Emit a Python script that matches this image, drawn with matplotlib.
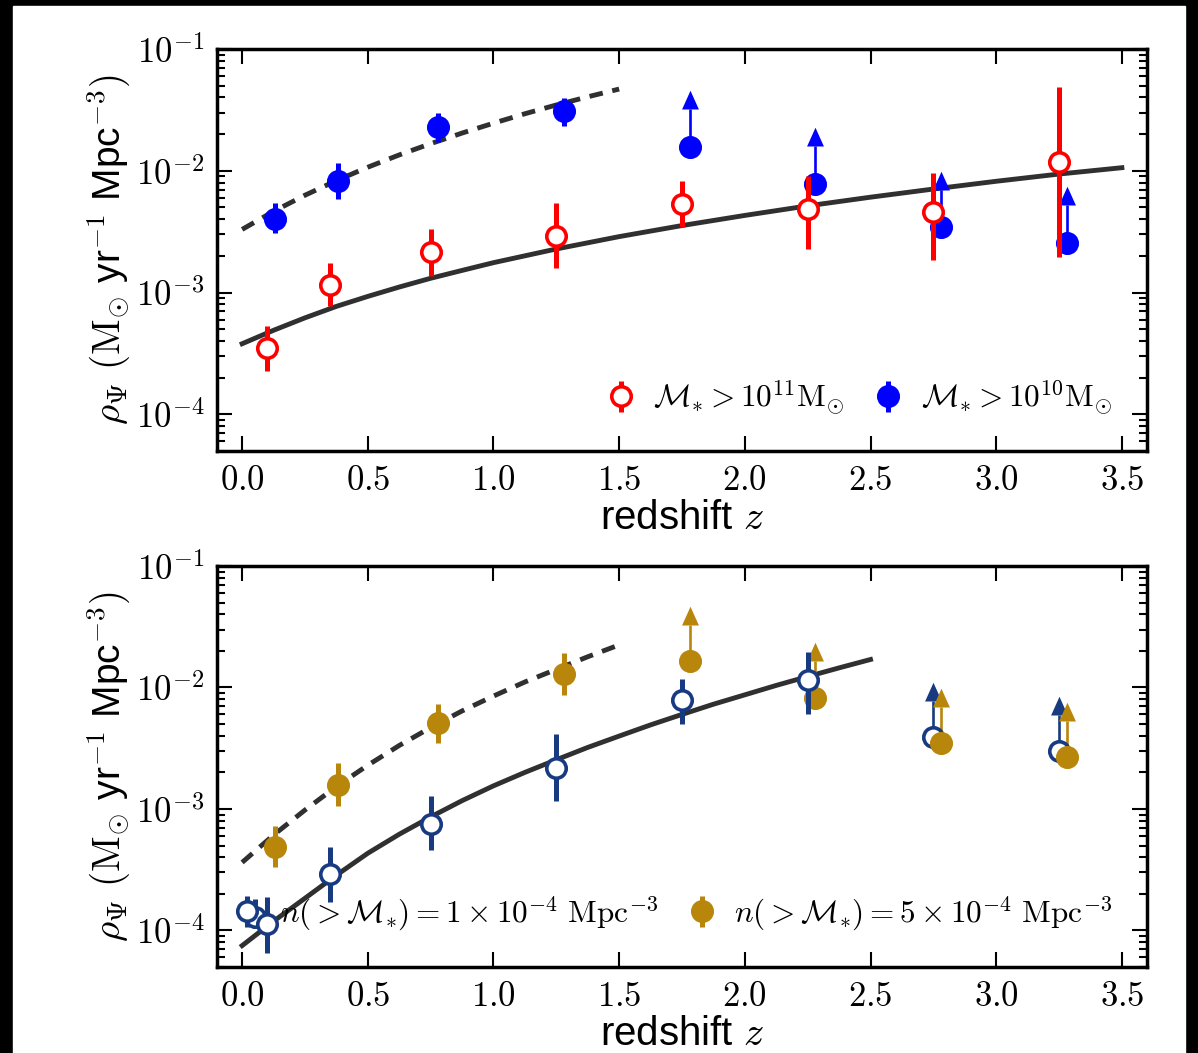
import numpy as np
import matplotlib
matplotlib.use('Agg')
import matplotlib.pyplot as plt
import matplotlib.ticker as mt
from matplotlib.patches import Rectangle

plt.rcParams['mathtext.fontset'] = 'cm'
plt.rcParams['font.family'] = ['Liberation Sans', 'DejaVu Sans']

# ---- top panel: fixed mass cut ----
z_m11 = [0.1, 0.35, 0.75, 1.25, 1.75, 2.25, 2.75, 3.25]
rho_m11 = [3.5e-4, 1.16e-3, 2.16e-3, 2.93e-3, 5.37e-3, 4.89e-3, 4.61e-3, 1.17e-2]
rho_m11_hi = [5.3e-4, 1.75e-3, 3.34e-3, 5.48e-3, 8.31e-3, 9.14e-3, 9.5e-3, 4.87e-2]
rho_m11_lo = [2.26e-4, 7.76e-4, 1.37e-3, 1.6e-3, 3.48e-3, 2.29e-3, 1.86e-3, 1.96e-3]

z_m10 = [0.13, 0.38, 0.78, 1.28]
rho_m10 = [4.05e-3, 8.17e-3, 2.28e-2, 3.08e-2]
rho_m10_hi = [5.48e-3, 1.15e-2, 2.97e-2, 3.94e-2]
rho_m10_lo = [3.1e-3, 5.91e-3, 1.71e-2, 2.32e-2]
z_m10_lim = [1.78, 2.28, 2.78, 3.28]
rho_m10_lim = [1.58e-2, 7.85e-3, 3.48e-3, 2.56e-3]
rho_m10_arrow = [3.2e-2, 1.6e-2, 7.0e-3, 5.2e-3]

zfit_top_solid = [0.0, 0.125, 0.25, 0.375, 0.5, 0.625, 0.75, 0.875, 1.0, 1.25, 1.5,
                  1.75, 2.0, 2.25, 2.5, 2.75, 3.0, 3.25, 3.5]
fit_top_solid = [3.8e-4, 4.9e-4, 6.2e-4, 7.7e-4, 9.3e-4, 1.11e-3, 1.31e-3, 1.52e-3, 1.76e-3,
                 2.28e-3, 2.88e-3, 3.55e-3, 4.3e-3, 5.15e-3, 6.07e-3, 7.08e-3, 8.2e-3,
                 9.4e-3, 1.06e-2]
zfit_top_dash = [0.0, 0.125, 0.25, 0.375, 0.5, 0.625, 0.75, 0.875, 1.0, 1.125, 1.25, 1.375, 1.5]
fit_top_dash = [3.3e-3, 4.64e-3, 6.3e-3, 8.3e-3, 1.07e-2, 1.35e-2, 1.67e-2, 2.04e-2, 2.46e-2,
                2.94e-2, 3.47e-2, 4.05e-2, 4.69e-2]

# ---- bottom panel: fixed number density ----
z_n1 = [0.05, 0.1, 0.35, 0.75, 1.25, 1.75, 2.25]
rho_n1 = [1.30e-4, 1.14e-4, 2.89e-4, 7.46e-4, 2.16e-3, 7.85e-3, 1.15e-2]
rho_n1_hi = [1.80e-4, 1.90e-4, 4.82e-4, 1.28e-3, 4.12e-3, 1.17e-2, 1.95e-2]
rho_n1_lo = [1.04e-4, 6.46e-5, 1.73e-4, 4.56e-4, 1.16e-3, 4.98e-3, 6.03e-3]
z_n1_lim = [2.75, 3.25]
rho_n1_lim = [3.89e-3, 2.99e-3]
rho_n1_arrow = [7.7e-3, 5.9e-3]

z_n5 = [0.13, 0.38, 0.78, 1.28]
rho_n5 = [4.88e-4, 1.57e-3, 5.08e-3, 1.29e-2]
rho_n5_hi = [7.19e-4, 2.38e-3, 7.28e-3, 1.92e-2]
rho_n5_lo = [3.30e-4, 1.05e-3, 3.48e-3, 8.65e-3]
z_n5_lim = [1.78, 2.28, 2.78, 3.28]
rho_n5_lim = [1.65e-2, 8.17e-3, 3.48e-3, 2.66e-3]
rho_n5_arrow = [3.25e-2, 1.65e-2, 6.9e-3, 5.3e-3]

zfit_bot_solid = [0.0, 0.125, 0.25, 0.375, 0.5, 0.625, 0.75, 0.875, 1.0, 1.125, 1.25, 1.375,
                  1.5, 1.625, 1.75, 1.875, 2.0, 2.125, 2.25, 2.375, 2.5]
fit_bot_solid = [7.5e-5, 1.19e-4, 1.84e-4, 2.85e-4, 4.32e-4, 6.19e-4, 8.6e-4, 1.17e-3, 1.55e-3,
                 2.0e-3, 2.54e-3, 3.21e-3, 3.98e-3, 4.92e-3, 6.0e-3, 7.28e-3, 8.7e-3, 1.04e-2,
                 1.23e-2, 1.45e-2, 1.7e-2]
zfit_bot_dash = [0.0, 0.125, 0.25, 0.375, 0.5, 0.625, 0.75, 0.875, 1.0, 1.125, 1.25, 1.375, 1.5]
fit_bot_dash = [3.63e-4, 6.1e-4, 9.8e-4, 1.53e-3, 2.29e-3, 3.33e-3, 4.68e-3, 6.41e-3, 8.5e-3,
                1.11e-2, 1.41e-2, 1.79e-2, 2.24e-2]

red = '#ff0000'
blue = '#0000ff'
navy = '#173a80'
gold = '#b8860b'
line_col = '#303030'

# arrow head with its base on the data point
head = [(-0.45, 0.0), (0.45, 0.0), (0.0, 1.0), (-0.45, 0.0)]


def points(ax, z, y, hi, lo, color, hollow, label):
    y = np.array(y)
    err = [y - np.array(lo), np.array(hi) - y]
    return ax.errorbar(z, y, yerr=err, fmt='o', ms=14, mfc='white' if hollow else color,
                       mec=color, mew=2.6, ecolor=color, elinewidth=3.6, capsize=0,
                       label=label, zorder=4)


def limits(ax, z, y, top, color, hollow):
    ax.vlines(z, y, top, color=color, lw=1.9, zorder=3)
    ax.plot(z, top, ls='none', marker=head, ms=27, mfc=color, mec=color, mew=0, zorder=3)
    ax.plot(z, y, 'o', ms=14, mfc='white' if hollow else color, mec=color,
            mew=2.6, zorder=4)


fig = plt.figure(figsize=(11.98, 10.53), dpi=100, facecolor='black')
fig.patches.append(Rectangle((13 / 1198, 0), (1185 - 13) / 1198, (1053 - 6) / 1053,
                             transform=fig.transFigure, color='white', zorder=-1))

ax1 = fig.add_axes([217 / 1198, 1 - 451 / 1053, 930 / 1198, 402 / 1053])
ax2 = fig.add_axes([217 / 1198, 1 - 967 / 1053, 930 / 1198, 401 / 1053])

leg_kw = dict(loc='lower right', ncol=2, frameon=False, fontsize=22.5, numpoints=1,
              handlelength=0.8, handletextpad=0.65, columnspacing=1.0, borderaxespad=0.7)

# top panel
ax1.plot(zfit_top_solid, fit_top_solid, '-', color=line_col, lw=3.5, zorder=2)
ax1.plot(zfit_top_dash, fit_top_dash, '--', color=line_col, lw=3.5, dashes=(2.8, 2.0), zorder=2)
limits(ax1, z_m10_lim, rho_m10_lim, rho_m10_arrow, blue, False)
h1 = points(ax1, z_m11, rho_m11, rho_m11_hi, rho_m11_lo, red, True,
            r'$\mathcal{M}_{*} > 10^{11}\mathrm{M}_{\odot}$')
h2 = points(ax1, z_m10, rho_m10, rho_m10_hi, rho_m10_lo, blue, False,
            r'$\mathcal{M}_{*} > 10^{10}\mathrm{M}_{\odot}$')
ax1.legend(handles=[h1, h2], **leg_kw)

# bottom panel
ax2.plot(zfit_bot_solid, fit_bot_solid, '-', color=line_col, lw=3.5, zorder=2)
ax2.plot(zfit_bot_dash, fit_bot_dash, '--', color=line_col, lw=3.5, dashes=(2.8, 2.0), zorder=2)
limits(ax2, z_n1_lim, rho_n1_lim, rho_n1_arrow, navy, True)
limits(ax2, z_n5_lim, rho_n5_lim, rho_n5_arrow, gold, False)
h3 = points(ax2, z_n1, rho_n1, rho_n1_hi, rho_n1_lo, navy, True,
            r'$n(>\mathcal{M}_{*}) = 1\times10^{-4}\ \mathrm{Mpc}^{-3}$')
h4 = points(ax2, z_n5, rho_n5, rho_n5_hi, rho_n5_lo, gold, False,
            r'$n(>\mathcal{M}_{*}) = 5\times10^{-4}\ \mathrm{Mpc}^{-3}$')
ax2.legend(handles=[h3, h4], **leg_kw)

for ax in (ax1, ax2):
    ax.set_yscale('log')
    ax.set_xlim(-0.1, 3.6)
    ax.set_ylim(5e-5, 1e-1)
    ax.xaxis.set_major_locator(mt.MultipleLocator(0.5))
    ax.xaxis.set_major_formatter(mt.FuncFormatter(lambda v, p: r'$%.1f$' % v))
    ax.yaxis.set_major_locator(mt.LogLocator(base=10, numticks=10))
    ax.yaxis.set_minor_locator(mt.LogLocator(base=10, subs=np.arange(2, 10), numticks=20))
    ax.yaxis.set_minor_formatter(mt.NullFormatter())
    ax.yaxis.set_major_formatter(mt.FuncFormatter(
        lambda v, p: r'$10^{%d}$' % int(round(np.log10(v)))))
    ax.tick_params(which='both', direction='in', top=True, right=True, labelsize=25)
    ax.tick_params(which='major', length=11, width=1.5, pad=9)
    ax.tick_params(which='minor', length=6, width=1.5)
    for s in ax.spines.values():
        s.set_linewidth(2.5)
    ax.set_xlabel(r'redshift $z$', fontsize=29, labelpad=2)
    ax.set_ylabel(r'$\rho_{\Psi}\ (\mathrm{M}_{\odot}\ $yr$^{-1}$ Mpc$^{-3})$', fontsize=28,
                  labelpad=3)

fig.savefig('out.png', dpi=100)
